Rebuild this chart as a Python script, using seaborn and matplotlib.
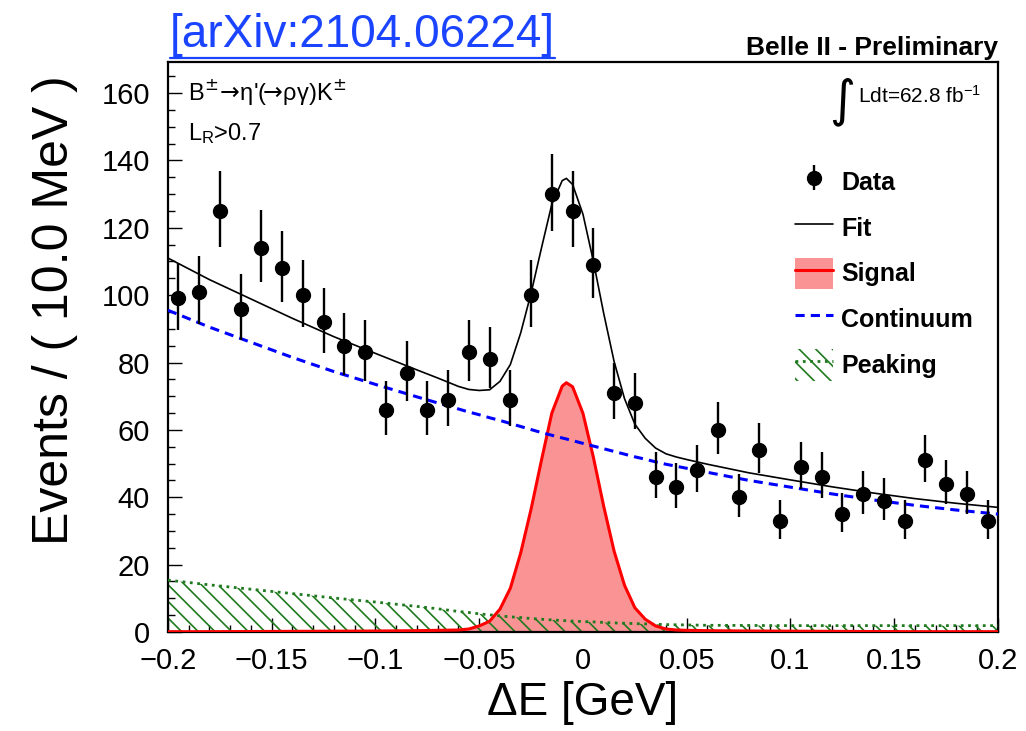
import numpy as np
import matplotlib
matplotlib.use("Agg")
import matplotlib.pyplot as plt
import seaborn as sns
from matplotlib.lines import Line2D
from matplotlib.patches import Patch
from matplotlib.ticker import MultipleLocator

# ---------------- data ----------------
bin_centers = [-0.195, -0.185, -0.175, -0.165, -0.155, -0.145, -0.135, -0.125, -0.115, -0.105,
               -0.095, -0.085, -0.075, -0.065, -0.055, -0.045, -0.035, -0.025, -0.015, -0.005,
               0.005, 0.015, 0.025, 0.035, 0.045, 0.055, 0.065, 0.075, 0.085, 0.095,
               0.105, 0.115, 0.125, 0.135, 0.145, 0.155, 0.165, 0.175, 0.185, 0.195]
counts = [99, 101, 125, 96, 114, 108, 100, 92, 85, 83,
          66, 77, 66, 69, 83, 81, 69, 100, 130, 125,
          109, 71, 68, 46, 43, 48, 60, 40, 54, 33,
          49, 46, 35, 41, 39, 33, 51, 44, 41, 33]
err_up = [10.5, 10.6, 11.7, 10.3, 11.2, 10.9, 10.5, 10.1, 9.7, 9.6,
          8.6, 9.3, 8.6, 8.8, 9.6, 9.5, 8.8, 10.5, 11.9, 11.7,
          10.9, 8.9, 8.8, 7.3, 7.1, 7.4, 8.3, 6.8, 7.9, 6.3,
          7.5, 7.3, 6.4, 6.9, 6.7, 6.3, 7.6, 7.1, 6.9, 6.3]
err_low = [9.5, 9.6, 10.7, 9.3, 10.2, 9.9, 9.5, 9.1, 8.7, 8.6,
           7.6, 8.3, 7.6, 7.8, 8.6, 8.5, 7.8, 9.5, 10.9, 10.7,
           9.9, 7.9, 7.8, 6.3, 6.1, 6.4, 7.3, 5.8, 6.9, 5.3,
           6.5, 6.3, 5.4, 5.9, 5.7, 5.3, 6.6, 6.1, 5.9, 5.3]

curve_x = [-0.2, -0.18, -0.16, -0.14, -0.12, -0.1, -0.08, -0.07, -0.06, -0.055,
           -0.05, -0.045, -0.04, -0.035, -0.03, -0.025, -0.02, -0.015, -0.01, -0.008,
           -0.005, 0.0, 0.005, 0.01, 0.015, 0.02, 0.025, 0.03, 0.035, 0.04,
           0.045, 0.05, 0.06, 0.08, 0.1, 0.12, 0.14, 0.16, 0.18, 0.2]
continuum = [95.5, 90.5, 86.0, 81.5, 77.3, 73.5, 69.8, 68.0, 66.2, 65.3,
             64.5, 63.6, 62.8, 61.9, 61.0, 60.1, 59.2, 58.4, 57.6, 57.3,
             56.8, 56.0, 55.2, 54.4, 53.6, 52.8, 52.0, 51.3, 50.5, 49.8,
             49.2, 48.6, 47.4, 45.0, 43.0, 41.0, 39.2, 37.6, 36.2, 35.0]
signal = [0.1, 0.1, 0.15, 0.2, 0.25, 0.3, 0.4, 0.5, 0.6, 0.9,
          1.8, 3.2, 6.8, 13.0, 23.5, 36.5, 51.0, 65.0, 73.0, 74.0,
          72.8, 64.9, 51.9, 37.3, 24.0, 13.9, 7.2, 3.8, 1.8, 0.9,
          0.6, 0.5, 0.4, 0.3, 0.25, 0.2, 0.15, 0.1, 0.1, 0.1]
peaking = [15.4, 14.0, 12.7, 11.4, 10.1, 8.9, 7.6, 6.9, 6.1, 5.8,
           5.4, 5.1, 4.8, 4.5, 4.3, 4.0, 3.8, 3.6, 3.4, 3.35,
           3.25, 3.1, 3.0, 2.85, 2.7, 2.6, 2.5, 2.4, 2.3, 2.2,
           2.15, 2.1, 2.0, 1.95, 1.9, 1.9, 1.9, 1.9, 1.9, 1.9]

xticks = [-0.2, -0.15, -0.1, -0.05, 0.0, 0.05, 0.1, 0.15, 0.2]
xticklabels = ["\u22120.2", "\u22120.15", "\u22120.1", "\u22120.05", "0", "0.05", "0.1", "0.15", "0.2"]
yticks = [0, 20, 40, 60, 80, 100, 120, 140, 160]

# ---------------- style ----------------
sns.set_theme(style="ticks")
plt.rcParams["font.family"] = ["Liberation Sans", "DejaVu Sans"]
plt.rcParams["mathtext.fontset"] = "custom"
plt.rcParams["mathtext.rm"] = "Liberation Sans"
plt.rcParams["mathtext.it"] = "Liberation Sans:italic"
plt.rcParams["mathtext.bf"] = "Liberation Sans:bold"
plt.rcParams["hatch.linewidth"] = 1.2
for k in ["text.color", "axes.labelcolor", "xtick.color", "ytick.color", "axes.edgecolor"]:
    plt.rcParams[k] = "black"

GREEN = "#1f7a1f"
SIGFILL = (0.98, 0.58, 0.58)

fig = plt.figure(figsize=(10.26, 7.31), dpi=100)
ax = fig.add_axes([0.1637, 0.1354, 0.8090, 0.7798])

cx = np.array(curve_x)
cont = np.array(continuum)
sig = np.array(signal)
peak = np.array(peaking)
fit = cont + sig + peak

# signal
ax.fill_between(cx, 0, sig, facecolor=SIGFILL, edgecolor="none", zorder=1)
# peaking (hatched, drawn over the signal fill)
ax.fill_between(cx, 0, peak, facecolor="none", edgecolor=GREEN, hatch="\\\\", linewidth=0, zorder=2)
sns.lineplot(x=cx, y=peak, ax=ax, color=GREEN, lw=2.0, linestyle=":", estimator=None, sort=False, zorder=3)
sns.lineplot(x=cx, y=sig, ax=ax, color="red", lw=2.2, estimator=None, sort=False, zorder=3)
# continuum
sns.lineplot(x=cx, y=cont, ax=ax, color="blue", lw=2.2, linestyle=(0, (3, 2)), estimator=None, sort=False, zorder=4)
# fit
sns.lineplot(x=cx, y=fit, ax=ax, color="black", lw=1.2, estimator=None, sort=False, zorder=5)
# data
data_h = ax.errorbar(bin_centers, counts, yerr=[err_low, err_up], fmt="o", color="black",
                     ms=10, elinewidth=1.7, capsize=0, zorder=6)

ax.set_xlim(-0.2, 0.2)
ax.set_ylim(0, 169.2)
ax.set_xticks(xticks, labels=xticklabels)
ax.set_yticks(yticks)
ax.xaxis.set_minor_locator(MultipleLocator(0.01))
ax.yaxis.set_minor_locator(MultipleLocator(5))
ax.tick_params(axis="both", which="both", direction="in", top=False, right=False, color="black")
ax.tick_params(axis="both", which="major", length=10, width=1.0, labelsize=21)
ax.tick_params(axis="both", which="minor", length=5, width=1.0)
ax.tick_params(axis="y", which="major", pad=13)
ax.tick_params(axis="x", which="major", pad=11)
for s in ax.spines.values():
    s.set_visible(True)
    s.set_linewidth(1.6)
    s.set_color("black")
ax.grid(False)

ax.set_xlabel("\u0394E [GeV]", fontsize=33, labelpad=4)
ax.set_ylabel("Events / ( 10.0 MeV )", fontsize=36, loc="top")
ax.yaxis.set_label_coords(-0.108, 0.977)

# annotations
ax.text(0.024, 0.933, "B$^{\\pm}\\!\\rightarrow\\!$\u03b7'($\\!\\!\\rightarrow\\!$\u03c1\u03b3)K$^{\\pm}$",
        transform=ax.transAxes, fontsize=17, va="baseline", ha="left", math_fontfamily="dejavusans")
ax.text(0.024, 0.863, r"L$_{\mathrm{R}}$>0.7", transform=ax.transAxes, fontsize=17, va="baseline", ha="left")
ax.text(0.812, 0.93, "\u222b", transform=ax.transAxes, fontsize=36, va="center", ha="center", family=["DejaVu Sans"])
ax.text(0.831, 0.928, r"Ldt=62.8 fb$^{-1}$", transform=ax.transAxes, fontsize=15, va="baseline", ha="left")

fig.text(0.9727, 0.925, "Belle II - Preliminary", fontsize=19, fontweight="bold", ha="right", va="baseline")
arx = fig.text(170 / 1026, 0.9357, "[arXiv:2104.06224]", fontsize=33, color="#1a44ff", ha="left", va="baseline")

# legend
handles = [data_h,
           Line2D([], [], color="black", lw=1.2),
           (Patch(facecolor=SIGFILL, edgecolor="none"), Line2D([], [], color="red", lw=2.2)),
           Line2D([], [], color="blue", lw=2.2, linestyle=(0, (3, 2))),
           (Patch(facecolor="none", edgecolor=GREEN, hatch="\\\\", linewidth=0),
            Line2D([], [], color=GREEN, lw=2.0, linestyle=":"))]
labels = ["Data", "Fit", "Signal", "Continuum", "Peaking"]
fig.legend(handles, labels, loc="upper left", bbox_to_anchor=(795 / 1026, 1 - 166 / 731),
           frameon=False, prop={"weight": "bold", "size": 18}, handlelength=1.5,
           handleheight=1.55, handletextpad=0.35, labelspacing=0.58, borderpad=0, borderaxespad=0)

# underline for the link
fig.canvas.draw()
bb = arx.get_window_extent()
W, H = fig.get_size_inches() * fig.dpi
fig.add_artist(Line2D([bb.x0 / W, bb.x1 / W], [(bb.y0 - 1) / H, (bb.y0 - 1) / H],
                      color="#1a44ff", lw=1.6, transform=fig.transFigure))

fig.savefig("out.png", dpi=100)
